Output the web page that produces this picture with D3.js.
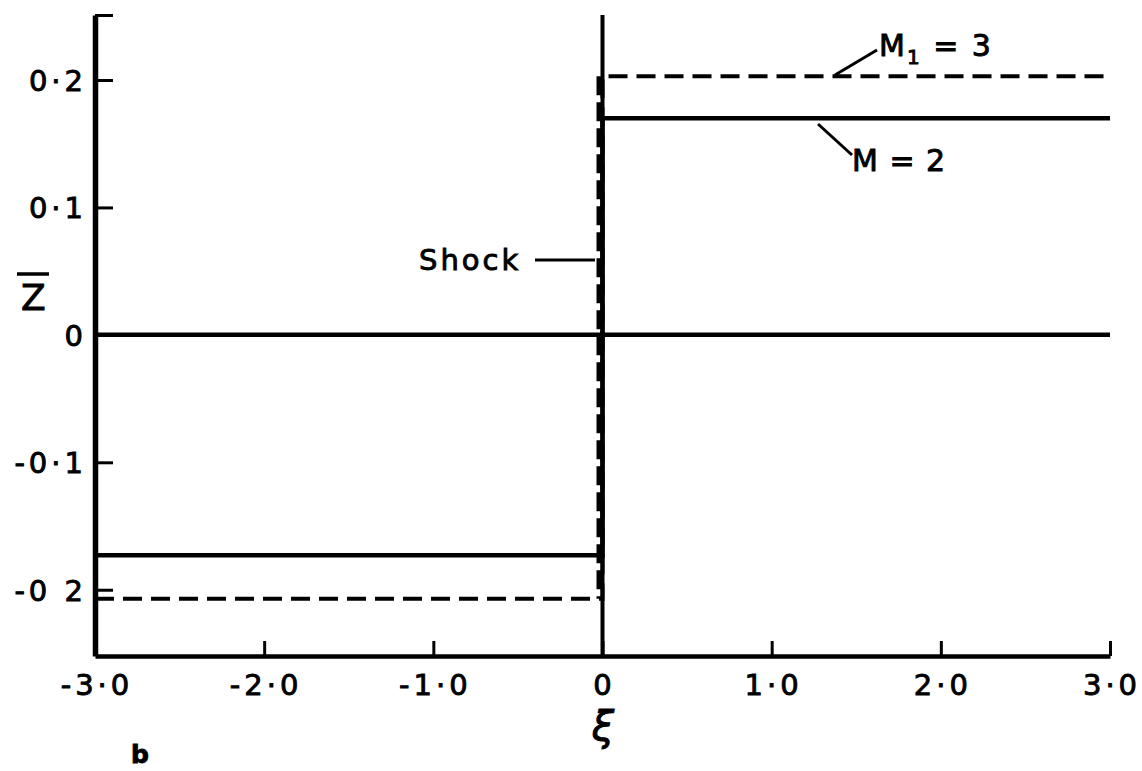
<!DOCTYPE html>
<html>
<head>
<meta charset="utf-8">
<script src="https://cdn.jsdelivr.net/npm/d3@7"></script>
<style>
  body { margin: 0; background: #fff; }
  svg text { font-family: "DejaVu Sans", sans-serif; fill: #000; stroke: #000; stroke-width: 0.9px; }
</style>
</head>
<body>
<svg width="1142" height="771"></svg>
<script>
// tick values + labels as lettered on the original
var xTicks = [-3, -2, -1, 0, 1, 2, 3];
var xTickLabels = ["-3·0", "-2·0", "-1·0", "0", "1·0", "2·0", "3·0"];
var yTicks = [0.2, 0.1, 0, -0.1, -0.2];
var yTickLabels = ["0·2", "0·1", "0", "-0·1", "-0 2"];

// step profiles of Z-bar across the shock at xi = 0
var m2Line = [[-3, -0.173], [0, -0.173], [0, 0.170], [3, 0.170]];   // M = 2, solid
var m1Line = [[-3, -0.207], [0, -0.207], [0, 0.203], [3, 0.203]];   // M1 = 3, dashed
var zeroLine = [[-3, 0], [3, 0]];

var svg = d3.select("svg");

var x = d3.scaleLinear().domain([-3, 3]).range([95, 1110]);
var y = d3.scaleLinear().domain([-0.252, 0.251]).range([656, 15]);

var line = d3.line()
    .x(function(d) { return x(d[0]); })
    .y(function(d) { return y(d[1]); });

// axes, ticks point inward
var xAxis = svg.append("g")
    .attr("transform", "translate(0," + y(-0.252) + ")")
    .call(d3.axisTop(x).tickValues(xTicks).tickSize(15).tickSizeOuter(0).tickFormat(""));
xAxis.select(".domain").attr("stroke-width", 4.5);
xAxis.selectAll(".tick line").attr("stroke-width", 3);

var yAxis = svg.append("g")
    .attr("transform", "translate(" + x(-3) + ",0)")
    .call(d3.axisRight(y).tickValues(yTicks.concat([0.251])).tickSize(18).tickSizeOuter(0).tickFormat(""));
yAxis.select(".domain").attr("stroke-width", 5.5);
yAxis.selectAll(".tick line").attr("stroke-width", 3);
yAxis.selectAll(".tick").filter(function(d) { return d === 0; }).remove();

// tick labels
svg.append("g").selectAll("text")
    .data(xTicks)
    .enter().append("text")
    .attr("x", function(d) { return x(d) + 2; })
    .attr("y", 695)
    .attr("text-anchor", "middle")
    .style("font-size", "29px")
    .style("letter-spacing", "4px")
    .text(function(d, i) { return xTickLabels[i]; });

svg.append("g").selectAll("text")
    .data(yTicks)
    .enter().append("text")
    .attr("x", 87)
    .attr("y", function(d) { return y(d) + 11; })
    .attr("text-anchor", "end")
    .style("font-size", "29px")
    .style("letter-spacing", "4px")
    .text(function(d, i) { return yTickLabels[i]; });

// shock (vertical at xi = 0)
svg.append("line")
    .attr("x1", x(0)).attr("x2", x(0))
    .attr("y1", y(0.251)).attr("y2", y(-0.252))
    .attr("stroke", "#000").attr("stroke-width", 4);

svg.append("line")
    .attr("x1", x(0) - 3).attr("x2", x(0) - 3)
    .attr("y1", y(m1Line[2][1])).attr("y2", y(m1Line[1][1]))
    .attr("stroke", "#000").attr("stroke-width", 6)
    .attr("stroke-dasharray", "19,7");

// profiles
svg.append("path").datum(zeroLine)
    .attr("d", line).attr("fill", "none")
    .attr("stroke", "#000").attr("stroke-width", 4.5);

svg.append("path").datum(m2Line)
    .attr("d", line).attr("fill", "none")
    .attr("stroke", "#000").attr("stroke-width", 4.5);

svg.append("path").datum(m1Line)
    .attr("d", line).attr("fill", "none")
    .attr("stroke", "#000").attr("stroke-width", 4)
    .attr("stroke-dasharray", "19,9");

// annotations
var ann = svg.append("g").attr("stroke", "#000").attr("stroke-width", 3);
ann.append("line").attr("x1", 835).attr("y1", 75).attr("x2", 877).attr("y2", 50);
ann.append("line").attr("x1", 818).attr("y1", 124).attr("x2", 852).attr("y2", 155);
ann.append("line").attr("x1", 535).attr("y1", 260).attr("x2", 595).attr("y2", 260);

var m1 = svg.append("text").attr("x", 879).attr("y", 56)
    .style("font-size", "30px").style("letter-spacing", "2px");
m1.append("tspan").text("M");
m1.append("tspan").attr("dy", 8).style("font-size", "20px").text("1");
m1.append("tspan").attr("dy", -8).text(" = 3");

svg.append("text").attr("x", 852).attr("y", 171)
    .style("font-size", "30px").style("letter-spacing", "1px")
    .text("M = 2");

svg.append("text").attr("x", 419).attr("y", 270)
    .style("font-size", "29px").style("letter-spacing", "3px")
    .text("Shock");

// axis titles
svg.append("text").attr("x", 21).attr("y", 310)
    .style("font-size", "36px")
    .text("Z");
svg.append("line").attr("x1", 17).attr("x2", 49).attr("y1", 274).attr("y2", 274)
    .attr("stroke", "#000").attr("stroke-width", 3.5);

svg.append("text").attr("x", 603).attr("y", 740)
    .attr("text-anchor", "middle")
    .style("font-size", "40px").style("font-style", "italic")
    .text("ξ");

svg.append("text").attr("x", 131).attr("y", 763)
    .style("font-size", "25px").style("font-weight", "bold")
    .text("b");
</script>
</body>
</html>
